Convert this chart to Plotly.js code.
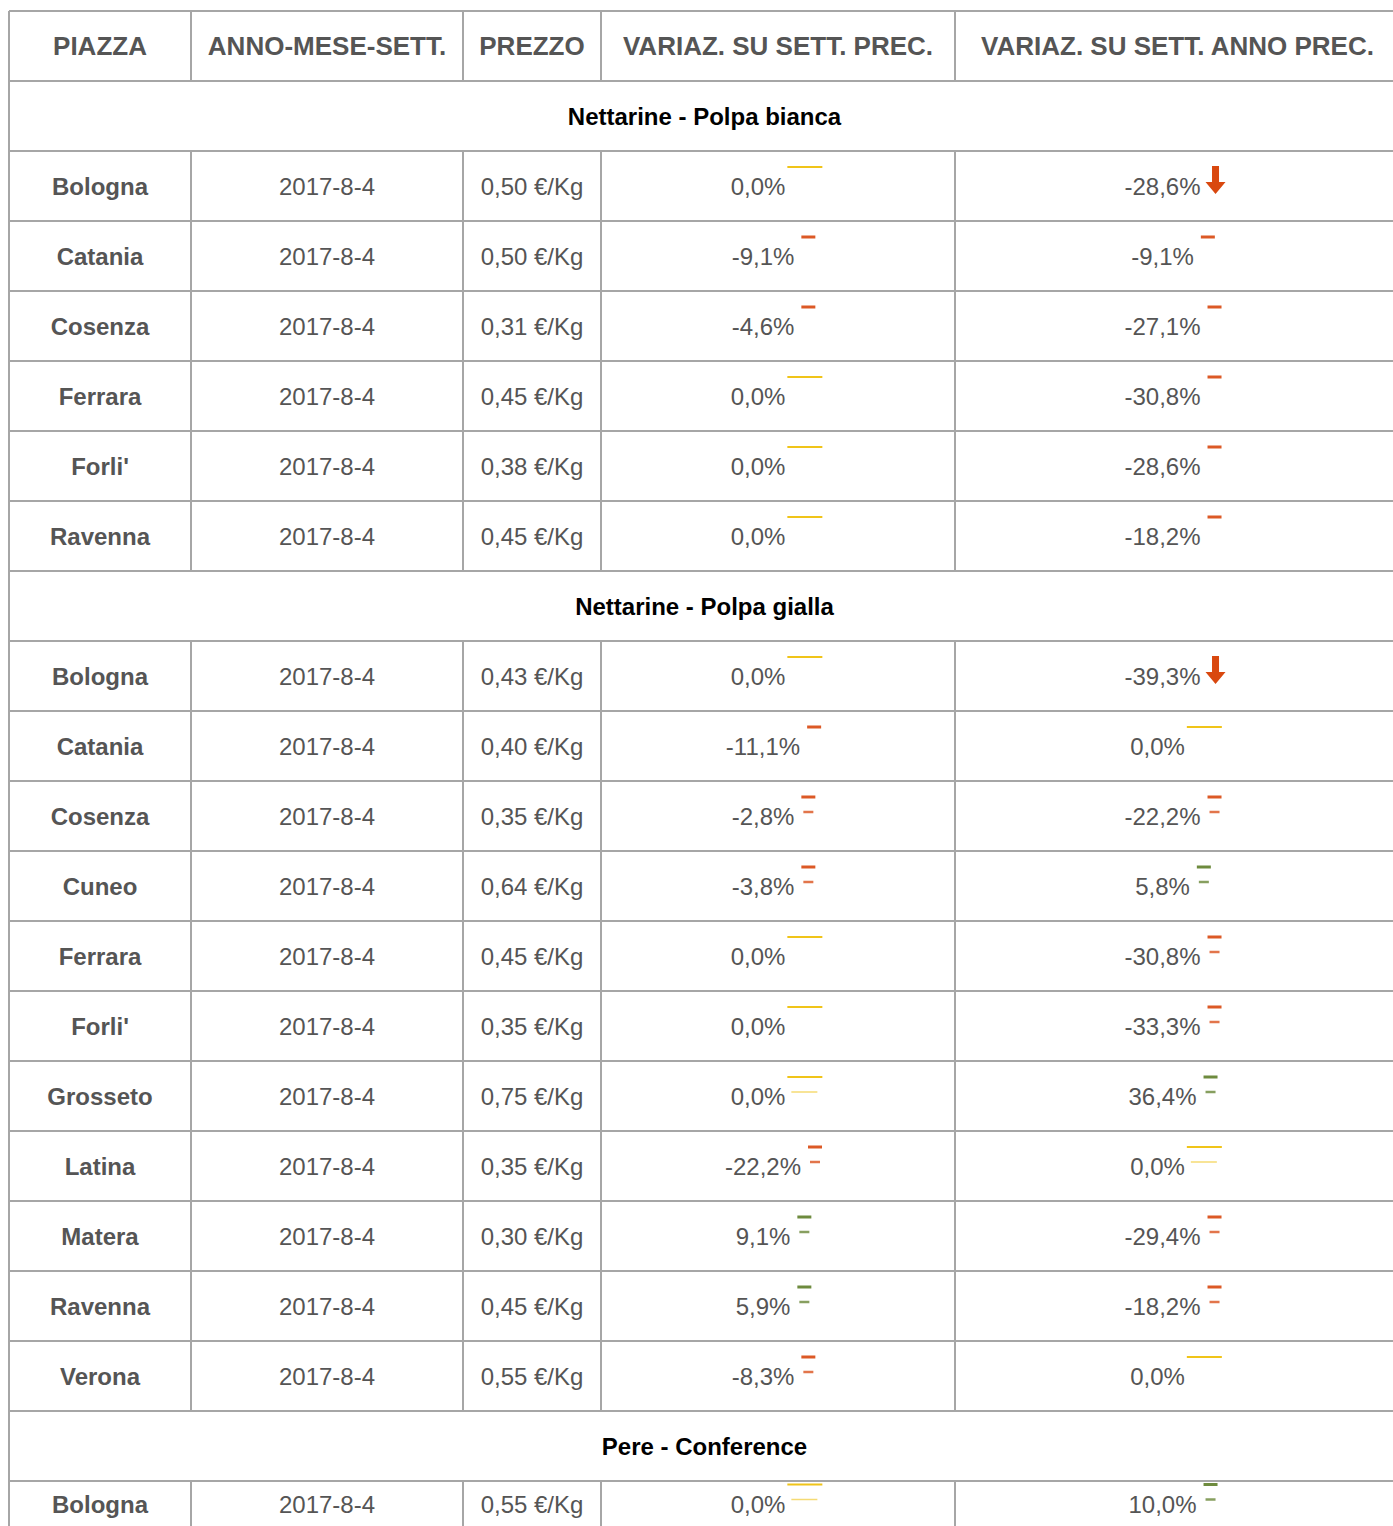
<!DOCTYPE html>
<html>
<head>
<meta charset="utf-8">
<script src="https://cdn.plot.ly/plotly-3.0.1.min.js"></script>
<style>html,body{margin:0;padding:0;background:#fff;}#chart{width:1393px;height:1526px;}</style>
</head>
<body>
<div id="chart"></div>
<script>
// ---- DATA ----
const intestazioni = ['PIAZZA', 'ANNO-MESE-SETT.', 'PREZZO', 'VARIAZ. SU SETT. PREC.', 'VARIAZ. SU SETT. ANNO PREC.'];
const sezioni = ['Nettarine - Polpa bianca', 'Nettarine - Polpa gialla', 'Pere - Conference'];
const gruppo = [0, 0, 0, 0, 0, 0, 1, 1, 1, 1, 1, 1, 1, 1, 1, 1, 1, 2];
const piazza = ['Bologna', 'Catania', 'Cosenza', 'Ferrara', "Forli'", 'Ravenna',
  'Bologna', 'Catania', 'Cosenza', 'Cuneo', 'Ferrara', "Forli'", 'Grosseto', 'Latina', 'Matera', 'Ravenna', 'Verona',
  'Bologna'];
const periodo = ['2017-8-4', '2017-8-4', '2017-8-4', '2017-8-4', '2017-8-4', '2017-8-4',
  '2017-8-4', '2017-8-4', '2017-8-4', '2017-8-4', '2017-8-4', '2017-8-4', '2017-8-4', '2017-8-4', '2017-8-4', '2017-8-4', '2017-8-4',
  '2017-8-4'];
const prezzo = [0.50, 0.50, 0.31, 0.45, 0.38, 0.45,
  0.43, 0.40, 0.35, 0.64, 0.45, 0.35, 0.75, 0.35, 0.30, 0.45, 0.55,
  0.55];
const varSett = [0.0, -9.1, -4.6, 0.0, 0.0, 0.0,
  0.0, -11.1, -2.8, -3.8, 0.0, 0.0, 0.0, -22.2, 9.1, 5.9, -8.3,
  0.0];
const varAnno = [-28.6, -9.1, -27.1, -30.8, -28.6, -18.2,
  -39.3, 0.0, -22.2, 5.8, -30.8, -33.3, 36.4, 0.0, -29.4, -18.2, 0.0,
  10.0];
// icon kind seen next to each value: a = arrow, s = single mark, d = double mark
const iconaSett = ['s', 's', 's', 's', 's', 's',
  's', 's', 'd', 'd', 's', 's', 'd', 'd', 'd', 'd', 'd',
  'd'];
const iconaAnno = ['a', 's', 's', 's', 's', 's',
  'a', 's', 'd', 'd', 'd', 'd', 'd', 'd', 'd', 'd', 's',
  'd'];

// ---- LAYOUT CONSTANTS ----
const W = 1393, H = 1526;
const colEdges = [9, 191, 463, 601, 955, 1400];
const top0 = 11, rowH = 70;
const gridColor = '#a6a6a6';
const txtGray = '#555555';
const FONT = 'Liberation Sans, Arial, sans-serif';
const colYellow = '#f0c419', colOrange = '#d9480f', colGreen = '#5f7f2a';
const textDy = 3;

const cc = i => (colEdges[i] + colEdges[i + 1]) / 2;
const fmtPrezzo = v => v.toFixed(2).replace('.', ',') + ' €/Kg';
const fmtVar = v => v.toFixed(1).replace('.', ',') + '%';

const canvas = document.createElement('canvas');
const ctx = canvas.getContext('2d');
ctx.font = "24px 'Liberation Sans'";
const tw = s => ctx.measureText(s).width;

const rows = [];
rows.push({type: 'head'});
sezioni.forEach((s, g) => {
  rows.push({type: 'sec', g});
  gruppo.forEach((gg, i) => { if (gg === g) rows.push({type: 'data', i}); });
});

const shapes = [];
const headX = [], headY = [], headT = [];
const secX = [], secY = [], secT = [];
const nameX = [], nameY = [], nameT = [];
const bodyX = [], bodyY = [], bodyT = [];

// icon drawn relative to the row's middle (mid = rowTop + height/2)
function addIcon(kind, v, textEnd, mid) {
  const col = v > 0 ? colGreen : (v < 0 ? colOrange : colYellow);
  const m1 = mid - 19, m2 = mid - 4;
  if (kind === 'a') {
    const cx = textEnd + 15;
    const a0 = mid - 20, a1 = mid - 4, a2 = mid + 8;
    const p = `M ${cx - 3.5} ${a0} L ${cx + 3.5} ${a0} L ${cx + 3.5} ${a1} L ${cx + 10} ${a1} L ${cx} ${a2} L ${cx - 10} ${a1} L ${cx - 3.5} ${a1} Z`;
    shapes.push({type: 'path', xref: 'x', yref: 'y', path: p, fillcolor: col, line: {width: 0}});
    return;
  }
  if (v === 0) {
    shapes.push({type: 'line', xref: 'x', yref: 'y', x0: textEnd + 2, x1: textEnd + 37, y0: m1, y1: m1, line: {color: col, width: 2}});
    if (kind === 'd') shapes.push({type: 'line', xref: 'x', yref: 'y', x0: textEnd + 6, x1: textEnd + 32, y0: m2, y1: m2, line: {color: col, width: 1.5}, opacity: 0.6});
  } else {
    const cx = textEnd + 14;
    shapes.push({type: 'line', xref: 'x', yref: 'y', x0: cx - 7, x1: cx + 7, y0: m1, y1: m1, line: {color: col, width: 3}, opacity: 0.9});
    if (kind === 'd') shapes.push({type: 'line', xref: 'x', yref: 'y', x0: cx - 5, x1: cx + 5, y0: m2, y1: m2, line: {color: col, width: 2.5}, opacity: 0.75});
  }
}

rows.forEach((r, k) => {
  const yT = top0 + k * rowH;
  const yBfull = yT + rowH;
  const yB = Math.min(yBfull, H);
  const mid = yT + (yB - yT) / 2;
  const yM = mid + textDy;
  if (yBfull <= H) shapes.push({type: 'line', xref: 'x', yref: 'y', x0: colEdges[0], x1: colEdges[5], y0: yB, y1: yB, line: {color: gridColor, width: 2}});
  shapes.push({type: 'line', xref: 'x', yref: 'y', x0: colEdges[0], x1: colEdges[0], y0: yT, y1: yB, line: {color: gridColor, width: 2}});
  if (r.type !== 'sec') {
    for (let c = 1; c < 5; c++) shapes.push({type: 'line', xref: 'x', yref: 'y', x0: colEdges[c], x1: colEdges[c], y0: yT, y1: yB, line: {color: gridColor, width: 2}});
  }
  if (r.type === 'head') {
    intestazioni.forEach((h, c) => { headX.push(cc(c)); headY.push(yM - 1); headT.push(h); });
  } else if (r.type === 'sec') {
    secX.push((colEdges[0] + colEdges[5]) / 2); secY.push(yM); secT.push(sezioni[r.g]);
  } else {
    const i = r.i;
    nameX.push(cc(0)); nameY.push(yM); nameT.push(piazza[i]);
    bodyX.push(cc(1)); bodyY.push(yM); bodyT.push(periodo[i]);
    bodyX.push(cc(2)); bodyY.push(yM); bodyT.push(fmtPrezzo(prezzo[i]));
    [[varSett[i], iconaSett[i], 3], [varAnno[i], iconaAnno[i], 4]].forEach(([v, kind, c]) => {
      const s = fmtVar(v);
      const iw = (v === 0 && kind !== 'a') ? 40 : 30;
      const w = tw(s);
      const cxText = cc(c) - iw / 2;
      bodyX.push(cxText); bodyY.push(yM); bodyT.push(s);
      addIcon(kind, v, cxText + w / 2, mid);
    });
  }
});
shapes.push({type: 'line', xref: 'x', yref: 'y', x0: colEdges[0], x1: colEdges[5], y0: top0, y1: top0, line: {color: gridColor, width: 2}});

const txt = (x, y, t, size, color, weight) => ({
  type: 'scatter', mode: 'text', x, y, text: t, textposition: 'middle center',
  textfont: {family: FONT, size, color, weight}, hoverinfo: 'skip', showlegend: false, cliponaxis: false
});

const data = [
  txt(headX, headY, headT, 26, txtGray, 'bold'),
  txt(secX, secY, secT, 24, '#000000', 'bold'),
  txt(nameX, nameY, nameT, 24, txtGray, 'bold'),
  txt(bodyX, bodyY, bodyT, 24, txtGray, 'normal')
];

const layout = {
  width: W, height: H,
  margin: {l: 0, r: 0, t: 0, b: 0, pad: 0},
  paper_bgcolor: '#ffffff', plot_bgcolor: '#ffffff',
  xaxis: {range: [0, W], visible: false, fixedrange: true},
  yaxis: {range: [H, 0], visible: false, fixedrange: true},
  shapes, hovermode: false, showlegend: false
};

Plotly.newPlot('chart', data, layout, {staticPlot: true, displayModeBar: false});
</script>
</body>
</html>
